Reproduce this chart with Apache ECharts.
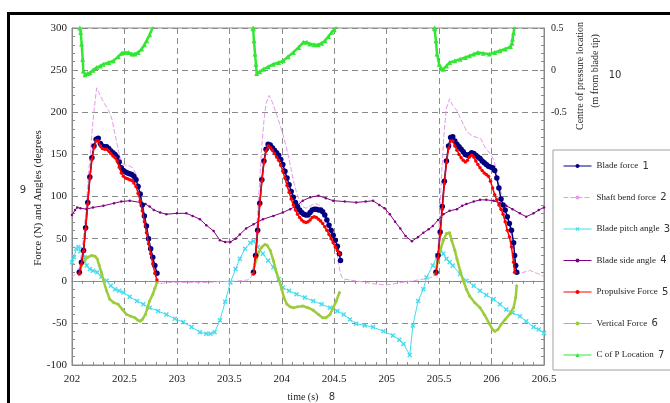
<!DOCTYPE html>
<html>
<head>
<meta charset="utf-8">
<script src="https://cdn.jsdelivr.net/npm/echarts@6/dist/echarts.min.js"></script>
<style>
html,body{margin:0;padding:0;background:#fff;}
#chart{width:670px;height:403px;}
</style>
</head>
<body>
<div id="chart"></div>
<script>
// ---------- DATA (time in s, value) ----------
const seriesNames = ['Blade force','Shaft bend force','Blade pitch angle','Blade side angle','Propulsive Force','Vertical Force','C of P Location'];
const seriesNumbers = ['1','2','3','4','5','6','7'];
const xTicks = [202, 206.5, 0.5];       // min, max, step
const yLeftTicks = [-100, 300, 50];
const yRightTicks = [-3.5, 0.5, 0.5];

const bladeForce1 = [[202.07,10],[202.09,22],[202.11,36],[202.13,63],[202.15,93],[202.17,123],[202.19,146],[202.21,160],[202.23,168],[202.25,169],[202.27,163],[202.29,160],[202.31,159],[202.33,159],[202.35,157],[202.37,154],[202.39,152],[202.41,150],[202.43,147],[202.45,141],[202.47,134],[202.49,131],[202.51,129],[202.53,128],[202.55,127],[202.57,126],[202.59,124],[202.61,120],[202.63,112],[202.65,103],[202.67,90],[202.69,77],[202.71,65],[202.73,50],[202.75,38],[202.77,28],[202.79,18],[202.81,9]];
const bladeForce2 = [[203.73,10],[203.75,30],[203.77,60],[203.79,92],[203.81,120],[203.83,142],[203.85,156],[203.87,162],[203.89,161],[203.91,158],[203.93,155],[203.95,152],[203.97,149],[203.99,144],[204.01,138],[204.03,130],[204.05,122],[204.07,114],[204.09,106],[204.11,99],[204.13,93],[204.15,88],[204.17,84],[204.19,81],[204.21,79],[204.23,78],[204.25,78],[204.27,81],[204.29,84],[204.31,85],[204.33,85],[204.35,84],[204.37,84],[204.39,82],[204.41,78],[204.43,72],[204.45,66],[204.47,60],[204.49,54],[204.51,48],[204.53,41],[204.55,32],[204.56,24]];
const bladeForce3 = [[205.47,10],[205.49,30],[205.51,58],[205.53,88],[205.55,118],[205.57,142],[205.59,160],[205.61,170],[205.63,171],[205.65,166],[205.67,162],[205.69,159],[205.71,156],[205.73,153],[205.75,150],[205.77,149],[205.79,150],[205.81,152],[205.83,151],[205.85,149],[205.87,147],[205.89,145],[205.91,142],[205.93,140],[205.95,138],[205.97,136],[205.99,135],[206.01,134],[206.03,131],[206.05,122],[206.07,110],[206.09,97],[206.11,90],[206.13,84],[206.15,76],[206.17,68],[206.19,60],[206.21,45],[206.22,30],[206.23,18],[206.24,10]];

const propulsive1 = [[202.07,8],[202.09,20],[202.11,35],[202.13,61],[202.15,91],[202.17,121],[202.19,144],[202.21,158],[202.23,166],[202.25,166],[202.27,160],[202.29,157],[202.31,156],[202.33,156],[202.35,154],[202.37,151],[202.39,148],[202.41,146],[202.43,142],[202.45,135],[202.47,128],[202.49,124],[202.51,122],[202.53,121],[202.55,120],[202.57,119],[202.59,116],[202.61,112],[202.63,104],[202.65,95],[202.67,83],[202.69,70],[202.71,57],[202.73,44],[202.75,32],[202.77,20],[202.79,9],[202.81,1]];
const propulsive2 = [[203.73,8],[203.75,28],[203.77,58],[203.79,90],[203.81,118],[203.83,140],[203.85,154],[203.87,160],[203.89,158],[203.91,155],[203.93,151],[203.95,147],[203.97,143],[203.99,137],[204.01,130],[204.03,122],[204.05,113],[204.07,105],[204.09,97],[204.11,90],[204.13,84],[204.15,79],[204.17,75],[204.19,72],[204.21,70],[204.23,69],[204.25,70],[204.27,72],[204.29,75],[204.31,76],[204.33,75],[204.35,73],[204.37,71],[204.39,68],[204.41,64],[204.43,60],[204.45,55],[204.47,50],[204.49,45],[204.51,40],[204.53,36],[204.55,32]];
const propulsive3 = [[205.47,8],[205.49,27],[205.51,55],[205.53,85],[205.55,115],[205.57,140],[205.59,157],[205.61,166],[205.63,166],[205.65,160],[205.67,155],[205.69,150],[205.71,146],[205.73,143],[205.75,141],[205.77,143],[205.79,147],[205.81,149],[205.83,147],[205.85,142],[205.87,138],[205.89,134],[205.91,131],[205.93,128],[205.95,126],[205.97,124],[205.99,118],[206.01,110],[206.03,102],[206.05,96],[206.07,90],[206.09,85],[206.11,79],[206.13,70],[206.15,60],[206.17,52],[206.19,40],[206.21,22],[206.22,10]];

const shaftBend = [[202.00,4],[202.04,9],[202.07,16],[202.10,40],[202.12,65],[202.14,95],[202.16,130],[202.18,160],[202.20,190],[202.22,213],[202.235,229],[202.25,225],[202.28,217],[202.31,210],[202.35,202],[202.38,192],[202.41,174],[202.44,156],[202.46,146],[202.49,138],[202.52,137],[202.55,136],[202.58,134],[202.61,127],[202.63,120],[202.65,104],[202.67,90],[202.69,77],[202.71,64],[202.73,50],[202.75,37],[202.77,26],[202.79,14],[202.81,3],[202.83,-4],[202.86,-3],[202.90,-2],[203.00,-2],[203.10,-2],[203.20,-2],[203.30,-2],[203.40,-1],[203.50,-1],[203.60,0],[203.68,1],[203.71,5],[203.73,14],[203.75,40],[203.77,80],[203.79,120],[203.81,160],[203.83,190],[203.85,210],[203.88,220],[203.91,212],[203.95,198],[203.98,186],[204.01,174],[204.04,160],[204.06,150],[204.09,132],[204.11,119],[204.14,105],[204.17,95],[204.20,88],[204.23,86],[204.26,88],[204.29,90],[204.32,92],[204.35,90],[204.38,88],[204.41,82],[204.44,70],[204.47,58],[204.50,45],[204.53,30],[204.55,14],[204.57,5],[204.59,2],[204.70,0],[204.80,-2],[204.90,-4],[205.00,-5],[205.10,-3],[205.20,-1],[205.30,1],[205.40,3],[205.45,5],[205.47,15],[205.49,40],[205.51,90],[205.53,140],[205.55,180],[205.57,205],[205.60,216],[205.63,208],[205.67,202],[205.70,194],[205.73,186],[205.76,178],[205.79,174],[205.83,171],[205.87,170],[205.90,168],[205.93,160],[205.96,155],[205.99,150],[206.02,144],[206.05,128],[206.08,110],[206.11,95],[206.14,82],[206.17,68],[206.20,40],[206.23,12],[206.25,8],[206.30,10],[206.37,12],[206.43,9],[206.50,5]];

const pitchAngle = [[202.00,22],[202.02,28],[202.04,38],[202.06,40],[202.08,35],[202.10,38],[202.12,28],[202.14,18],[202.17,14],[202.20,12],[202.24,10],[202.28,5],[202.33,0],[202.37,-6],[202.41,-10],[202.45,-12],[202.49,-14],[202.55,-19],[202.62,-24],[202.68,-28],[202.74,-32],[202.82,-36],[202.90,-40],[202.98,-45],[203.06,-49],[203.14,-55],[203.22,-61],[203.28,-63],[203.32,-63],[203.36,-61],[203.41,-47],[203.46,-25],[203.51,-2],[203.56,14],[203.60,26],[203.65,38],[203.70,45],[203.73,47],[203.77,40],[203.82,32],[203.87,24],[203.92,16],[203.97,2],[204.01,-8],[204.07,-12],[204.14,-16],[204.22,-20],[204.30,-24],[204.38,-28],[204.46,-32],[204.53,-36],[204.59,-40],[204.65,-46],[204.71,-51],[204.79,-53],[204.87,-55],[204.97,-60],[205.06,-65],[205.12,-70],[205.16,-75],[205.22,-88],[205.25,-53],[205.30,-24],[205.35,-10],[205.38,4],[205.44,18],[205.48,30],[205.51,38],[205.54,32],[205.57,26],[205.60,22],[205.63,18],[205.70,8],[205.76,0],[205.83,-6],[205.89,-12],[205.95,-17],[206.02,-22],[206.08,-28],[206.14,-34],[206.20,-38],[206.27,-42],[206.33,-48],[206.40,-55],[206.45,-58],[206.50,-62]];

const sideAngle = [[202.00,78],[202.03,84],[202.05,87],[202.08,86],[202.14,85],[202.20,87],[202.30,89],[202.40,92],[202.47,94],[202.55,95],[202.65,93],[202.70,91],[202.74,88],[202.78,84],[202.84,81],[202.90,79],[203.00,80],[203.09,80],[203.15,77],[203.22,73],[203.28,66],[203.35,59],[203.41,48],[203.46,46],[203.51,46],[203.56,50],[203.60,55],[203.66,62],[203.73,67],[203.82,73],[203.92,77],[204.01,81],[204.08,85],[204.14,89],[204.20,95],[204.27,99],[204.35,101],[204.42,98],[204.49,95],[204.60,94],[204.71,93],[204.80,94],[204.87,95],[204.93,90],[204.98,86],[205.03,79],[205.08,70],[205.13,62],[205.18,53],[205.24,47],[205.30,52],[205.35,57],[205.40,61],[205.44,65],[205.49,72],[205.54,79],[205.60,83],[205.67,85],[205.72,89],[205.76,91],[205.83,94],[205.89,96],[205.95,96],[206.02,95],[206.08,92],[206.14,89],[206.20,85],[206.27,80],[206.33,76],[206.40,80],[206.45,84],[206.50,87]];

const verticalForce1 = [[202.07,8],[202.09,18],[202.12,24],[202.15,28],[202.19,30],[202.22,29],[202.24,26],[202.26,18],[202.28,10],[202.30,0],[202.33,-12],[202.36,-22],[202.40,-26],[202.44,-28],[202.48,-34],[202.52,-40],[202.56,-42],[202.60,-44],[202.63,-47],[202.65,-48],[202.67,-46],[202.70,-40],[202.72,-32],[202.74,-24],[202.77,-16],[202.79,-9],[202.81,-2]];
const verticalForce2 = [[203.72,8],[203.74,18],[203.76,26],[203.78,34],[203.81,40],[203.84,43],[203.86,42],[203.89,36],[203.92,24],[203.94,14],[203.97,2],[204.00,-10],[204.02,-20],[204.05,-28],[204.08,-31],[204.11,-32],[204.15,-31],[204.20,-30],[204.25,-32],[204.30,-35],[204.35,-40],[204.39,-44],[204.42,-44],[204.46,-40],[204.49,-32],[204.52,-24],[204.55,-14]];
const verticalForce3 = [[205.46,8],[205.49,24],[205.51,36],[205.54,48],[205.57,56],[205.60,57],[205.62,48],[205.65,36],[205.67,26],[205.70,12],[205.73,0],[205.76,-10],[205.79,-18],[205.84,-26],[205.89,-32],[205.93,-40],[205.98,-51],[206.01,-58],[206.03,-60],[206.06,-58],[206.09,-52],[206.13,-46],[206.17,-40],[206.21,-32],[206.23,-20],[206.24,-6]];

// C of P location (m from blade tip), right axis
const copLocation1 = [[202.075,0.5],[202.083,0.45],[202.092,0.31],[202.102,0.13],[202.108,-0.01],[202.124,-0.055],[202.15,-0.04],[202.172,-0.03],[202.2,0.0],[202.235,0.03],[202.27,0.05],[202.298,0.07],[202.35,0.09],[202.394,0.11],[202.44,0.16],[202.474,0.2],[202.5,0.21],[202.537,0.21],[202.57,0.19],[202.6,0.19],[202.63,0.21],[202.664,0.25],[202.69,0.3],[202.712,0.35],[202.74,0.42],[202.775,0.52]];
const copLocation2 = [[203.726,0.5],[203.728,0.49],[203.735,0.35],[203.745,0.19],[203.754,0.07],[203.761,-0.04],[203.79,-0.02],[203.824,0.01],[203.87,0.04],[203.919,0.07],[203.97,0.09],[204.014,0.11],[204.06,0.16],[204.11,0.21],[204.16,0.27],[204.205,0.33],[204.24,0.33],[204.269,0.31],[204.31,0.3],[204.348,0.3],[204.38,0.32],[204.412,0.35],[204.445,0.4],[204.476,0.45],[204.5,0.48],[204.523,0.52]];
const copLocation3 = [[205.455,0.5],[205.46,0.49],[205.47,0.35],[205.48,0.19],[205.5,0.07],[205.52,0.02],[205.54,0.01],[205.57,0.05],[205.6,0.09],[205.65,0.11],[205.7,0.13],[205.75,0.15],[205.79,0.17],[205.83,0.19],[205.87,0.21],[205.92,0.2],[205.98,0.19],[206.03,0.21],[206.08,0.23],[206.13,0.25],[206.18,0.28],[206.195,0.32],[206.2,0.37],[206.21,0.44],[206.22,0.52]];

// ---------- CHART ----------
const GAP = ['-','-'];
function joinStrokes(){ const out=[]; Array.from(arguments).forEach((s,i)=>{ if(i>0) out.push(GAP); s.forEach(p=>out.push(p)); }); return out; }

const serif = 'Liberation Serif';
const sans = 'DejaVu Sans';
const gridCol = '#8a8a8a';
const crossPath = 'path://M2,0 L5,3 L8,0 L10,2 L7,5 L10,8 L8,10 L5,7 L2,10 L0,8 L3,5 L0,2 Z';

const chart = echarts.init(document.getElementById('chart'), null, {renderer:'canvas'});

const commonX = {
  type:'value', min:xTicks[0], max:xTicks[1], interval:xTicks[2], gridIndex:0
};

const option = {
  animation:false,
  backgroundColor:'#fff',
  grid:{left:72, top:28, width:472, height:337, show:true, borderColor:gridCol, borderWidth:1, containLabel:false},
  xAxis:[
    Object.assign({}, commonX, {
      position:'bottom',
      axisLine:{show:true, onZero:false, lineStyle:{color:gridCol, width:1}},
      axisTick:{show:true, inside:true, length:4, lineStyle:{color:gridCol}},
      minorTick:{show:true, splitNumber:5, length:3, lineStyle:{color:gridCol}},
      axisLabel:{show:true, margin:9, color:'#222', fontFamily:serif, fontSize:11,
        formatter: v => String(v)},
      splitLine:{show:true, lineStyle:{color:gridCol, type:[6,4], width:1}}
    }),
    Object.assign({}, commonX, {
      position:'bottom',
      axisLine:{show:true, onZero:true, onZeroAxisIndex:0, lineStyle:{color:gridCol, width:1.2}},
      axisTick:{show:true, inside:false, length:4, lineStyle:{color:gridCol}},
      minorTick:{show:true, splitNumber:5, length:3, lineStyle:{color:gridCol}},
      axisLabel:{show:false},
      splitLine:{show:false}
    })
  ],
  yAxis:[
    {
      type:'value', min:yLeftTicks[0], max:yLeftTicks[1], interval:yLeftTicks[2], position:'left',
      axisLine:{show:true, onZero:false, lineStyle:{color:gridCol}},
      axisTick:{show:true, inside:true, length:4, lineStyle:{color:gridCol}},
      minorTick:{show:true, splitNumber:5, length:3, lineStyle:{color:gridCol}},
      axisLabel:{color:'#222', fontFamily:serif, fontSize:11, margin:5},
      splitLine:{show:true, lineStyle:{color:gridCol, type:[6,4], width:1}}
    },
    {
      type:'value', min:yRightTicks[0], max:yRightTicks[1], interval:yRightTicks[2], position:'right',
      axisLine:{show:true, onZero:false, lineStyle:{color:gridCol}},
      axisTick:{show:true, inside:true, length:4, lineStyle:{color:gridCol}},
      minorTick:{show:true, splitNumber:5, length:3, lineStyle:{color:gridCol}},
      axisLabel:{color:'#222', fontFamily:serif, fontSize:10, margin:7,
        formatter: v => (v >= -0.5 ? String(v) : '')},
      splitLine:{show:false}
    }
  ],
  legend:{
    orient:'vertical', left:553, top:150,
    padding:[11, 60, 10, 10],
    itemGap:21.5, itemWidth:28, itemHeight:5,
    backgroundColor:'#fff', borderColor:'#a0a0a0', borderWidth:1, borderRadius:0,
    data: seriesNames,
    lineStyle:{width:1},
    formatter: name => name + ' {n|' + seriesNumbers[seriesNames.indexOf(name)] + '}',
    textStyle:{fontFamily:serif, fontSize:9, color:'#222',
      rich:{n:{fontFamily:sans, fontSize:10, color:'#333', padding:[0,0,0,2]}}},
    selectedMode:false
  },
  series:[
    {name:seriesNames[0], type:'line', data:joinStrokes(bladeForce1, bladeForce2, bladeForce3),
      color:'#000080', lineStyle:{width:1.5, color:'#000080'}, symbol:'circle', symbolSize:5.5,
      itemStyle:{color:'#000080'}, z:3},
    {name:seriesNames[1], type:'line', data:shaftBend, showSymbol:false, symbol:'none',
      color:'#e69ae8', lineStyle:{width:1, color:'#e69ae8', type:[5,2]}, itemStyle:{color:'#e69ae8'}, z:2},
    {name:seriesNames[2], type:'line', data:pitchAngle,
      color:'#45dcee', lineStyle:{width:1, color:'#45dcee'}, symbol:crossPath, symbolSize:5,
      itemStyle:{color:'#45dcee'}, z:2},
    {name:seriesNames[3], type:'line', data:sideAngle,
      color:'#800080', lineStyle:{width:1, color:'#800080'}, symbol:'circle', symbolSize:2.5,
      itemStyle:{color:'#800080'}, z:2},
    {name:seriesNames[4], type:'line', data:joinStrokes(propulsive1, propulsive2, propulsive3),
      color:'#ff0000', lineStyle:{width:1.5, color:'#ff0000'}, symbol:'circle', symbolSize:3.5,
      itemStyle:{color:'#ff0000'}, z:4},
    {name:seriesNames[5], type:'line', data:joinStrokes(verticalForce1, verticalForce2, verticalForce3),
      color:'#9ccc3c', lineStyle:{width:2.5, color:'#9ccc3c'}, symbol:'circle', symbolSize:3,
      itemStyle:{color:'#9ccc3c'}, z:3},
    {name:seriesNames[6], type:'line', yAxisIndex:1, data:joinStrokes(copLocation1, copLocation2, copLocation3),
      color:'#33e633', lineStyle:{width:2.5, color:'#33e633'}, symbol:'triangle', symbolSize:5,
      itemStyle:{color:'#33e633'}, z:5}
  ],
  graphic:[
    {type:'rect', shape:{x:8.5, y:13.5, width:720, height:460}, style:{fill:'none', stroke:'#000', lineWidth:3}, silent:true, z:100},
    {type:'text', x:38, y:198, rotation:Math.PI/2, style:{text:'Force (N) and Angles (degrees', fontFamily:serif, fontSize:11, fill:'#222', textAlign:'center', textVerticalAlign:'middle'}},
    {type:'text', x:23, y:190, style:{text:'9', fontFamily:sans, fontSize:10, fill:'#333', textAlign:'center', textVerticalAlign:'middle'}},
    {type:'text', x:580, y:76, rotation:Math.PI/2, style:{text:'Centre of pressure location', fontFamily:serif, fontSize:10, fill:'#222', textAlign:'center', textVerticalAlign:'middle'}},
    {type:'text', x:595, y:71, rotation:Math.PI/2, style:{text:'(m from blade tip)', fontFamily:serif, fontSize:10, fill:'#222', textAlign:'center', textVerticalAlign:'middle'}},
    {type:'text', x:615, y:75, style:{text:'10', fontFamily:sans, fontSize:10, fill:'#333', textAlign:'center', textVerticalAlign:'middle'}},
    {type:'text', x:303, y:397, style:{text:'time (s)', fontFamily:serif, fontSize:10, fill:'#222', textAlign:'center', textVerticalAlign:'middle'}},
    {type:'text', x:332, y:397, style:{text:'8', fontFamily:sans, fontSize:10, fill:'#333', textAlign:'center', textVerticalAlign:'middle'}}
  ]
};
chart.setOption(option);
</script>
</body>
</html>
